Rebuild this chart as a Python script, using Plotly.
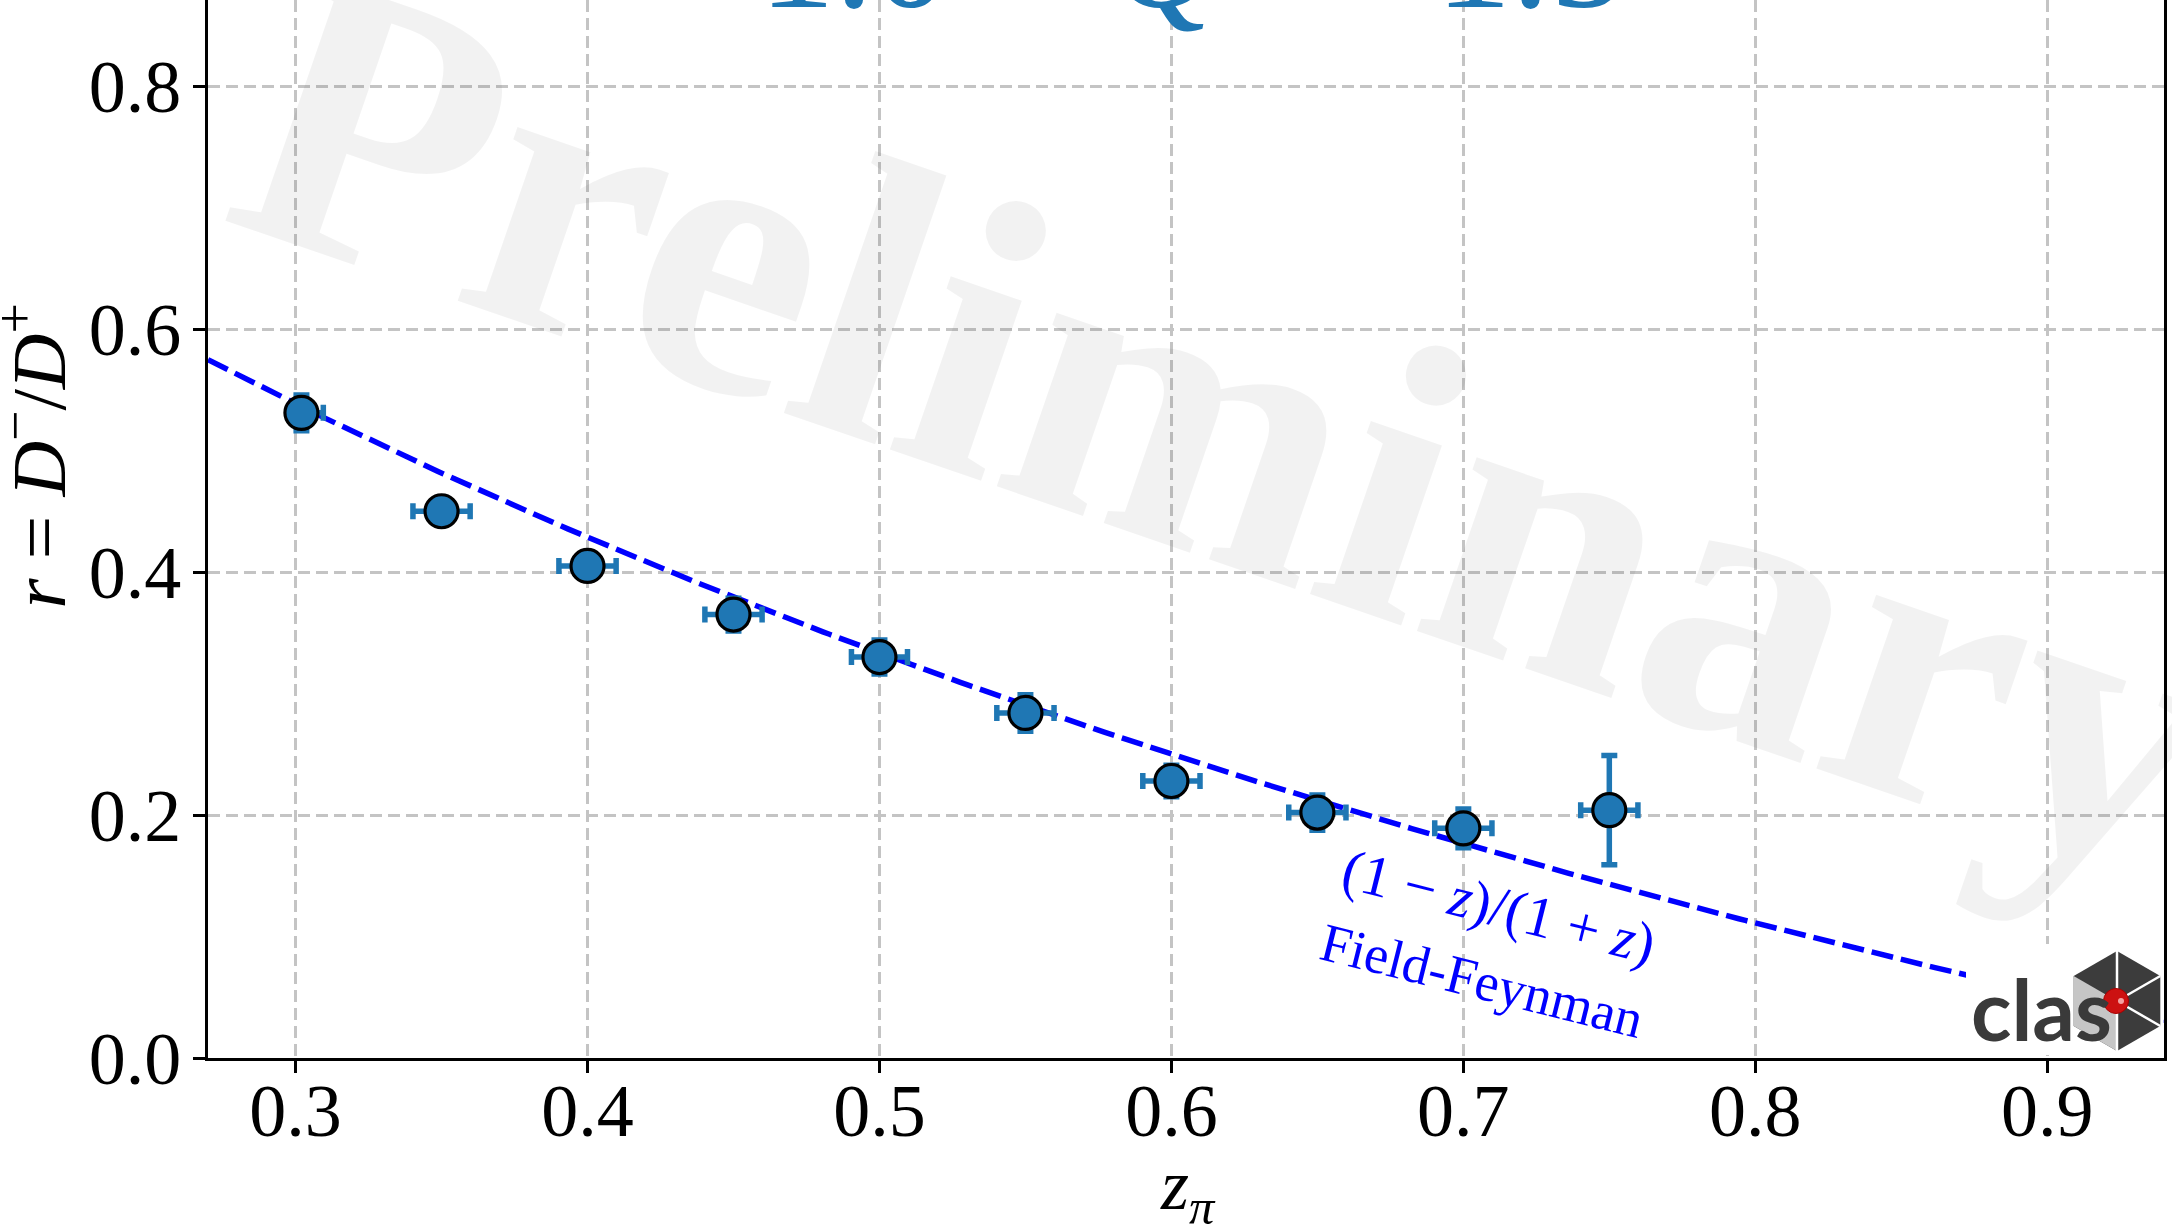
import numpy as np
import plotly.graph_objects as go

# Measured ratio r = D-/D+ versus z_pi
z_pi = [0.302, 0.35, 0.40, 0.45, 0.50, 0.55, 0.60, 0.65, 0.70, 0.75]
ratio = [0.531, 0.450, 0.405, 0.365, 0.330, 0.284, 0.228, 0.202, 0.189, 0.204]
ratio_err = [0.0147, 0.010, 0.010, 0.0135, 0.014, 0.015, 0.013, 0.0145, 0.016, 0.045]
z_err_hi = [0.0075, 0.0098, 0.0098, 0.0098, 0.0096, 0.0098, 0.0098, 0.0098, 0.0098, 0.0098]
z_err_lo = [0.0020, 0.0098, 0.0098, 0.0098, 0.0096, 0.0098, 0.0098, 0.0098, 0.0098, 0.0098]

x_ticks = [0.3, 0.4, 0.5, 0.6, 0.7, 0.8, 0.9]
y_ticks = [0.0, 0.2, 0.4, 0.6, 0.8]
x_range = [0.27, 0.94]
y_range = [0.0, 0.8708]

# Field-Feynman expectation (1-z)/(1+z)
z_model = np.linspace(x_range[0], x_range[1], 300)
r_model = (1 - z_model) / (1 + z_model)

W, H = 2172, 1229
ML, MR, MT, MB = 208, 8, 0, 171
PW, PH = W - ML - MR, H - MT - MB

SERIF = "Liberation Serif"
C_DATA = "#1f77b4"


def px(x):
    return (x - ML) / PW


def py(y):
    return (MT + PH - y) / PH


fig = go.Figure()

fig.add_trace(go.Scatter(
    x=z_model, y=r_model, mode="lines",
    line=dict(color="#0000ff", width=5.5, dash="22px,8px"),
    hoverinfo="skip", showlegend=False,
))

fig.add_trace(go.Scatter(
    x=z_pi, y=ratio, mode="markers",
    marker=dict(size=33, color=C_DATA, line=dict(color="black", width=3.2)),
    error_y=dict(type="data", array=ratio_err, color=C_DATA, thickness=5.5, width=8),
    error_x=dict(type="data", array=z_err_hi, arrayminus=z_err_lo, symmetric=False,
                 color=C_DATA, thickness=5.5, width=8),
    showlegend=False,
))

axis_common = dict(
    showgrid=True, gridcolor="#c4c4c4", gridwidth=2.5, griddash="12px,6px",
    showline=True, linecolor="black", linewidth=2.8,
    ticks="outside", ticklen=12, tickwidth=2.5, tickcolor="black",
    tickfont=dict(family=SERIF, size=74, color="black"),
    zeroline=False,
)

fig.update_xaxes(range=x_range, tickvals=x_ticks, ticktext=[f"{v:.1f}" for v in x_ticks],
                 mirror=False, ticklabelstandoff=-26, **axis_common)
fig.update_yaxes(range=y_range, tickvals=y_ticks, ticktext=[f"{v:.1f}" for v in y_ticks],
                 mirror=True, ticklabelstandoff=-3, **axis_common)

annotations = [
    # watermark
    dict(text="Preliminary", x=0.6212, y=0.520, xref="x", yref="y",
         xanchor="center", yanchor="middle", textangle=19, showarrow=False,
         font=dict(family=SERIF, size=400, weight="bold", color="rgba(0,0,0,0.05)")),
    # bin title
    dict(text="1.0 &lt; <i>Q</i><sup>2</sup> &lt; 1.5", x=0.607, y=0.8364, xref="x", yref="y",
         xanchor="center", yanchor="bottom", showarrow=False,
         font=dict(family=SERIF, size=152, color=C_DATA)),
    # model labels
    dict(text="(1 − <i>z</i>)/(1 + <i>z</i>)", x=0.7123, y=0.125, xref="x", yref="y",
         xanchor="center", yanchor="middle", textangle=14, showarrow=False,
         font=dict(family=SERIF, size=58, color="#0000ff")),
    dict(text="Field-Feynman", x=0.7065, y=0.0634, xref="x", yref="y",
         xanchor="center", yanchor="middle", textangle=14, showarrow=False,
         font=dict(family=SERIF, size=54, color="#0000ff")),
    # axis titles
    dict(text="<i>r</i> = <i>D</i><sup>−</sup>/<i>D</i><sup>+</sup>", x=px(84), y=0.4955,
         xref="paper", yref="y", xanchor="right", yanchor="middle", textangle=-90,
         showarrow=False, font=dict(family=SERIF, size=77, color="black")),
    dict(text="<i>z</i><sub><i>π</i></sub>", x=px(1188), y=py(1143), xref="paper", yref="paper",
         xanchor="center", yanchor="top", showarrow=False,
         font=dict(family=SERIF, size=72, color="black")),
    # logo lettering
    dict(text="clas", x=px(1969), y=py(1061), xref="paper", yref="paper",
         xanchor="left", yanchor="bottom", showarrow=False,
         font=dict(family="Lato", size=84, weight="bold", color="#3a3a3a")),
]

# CLAS logo: white backing, hexagon cube, red ball
shapes = [dict(type="rect", xref="paper", yref="paper", x0=px(1966), x1=px(2161),
               y0=py(1055), y1=py(944), fillcolor="white", line_width=0, layer="above")]

cx, cy, R = 2117.0, 1001.0, 50.0
angles = np.deg2rad([90, 30, -30, -90, -150, 150])
verts = [(cx + R * np.cos(a), cy - R * np.sin(a)) for a in angles]


def path_of(points):
    return "M " + " L ".join(f"{px(x):.5f},{py(y):.5f}" for x, y in points) + " Z"


shapes.append(dict(type="path", xref="paper", yref="paper", path=path_of(verts),
                   fillcolor="#3c3c3c", line_width=0, layer="above"))
face = [verts[5], (cx, cy), verts[3], verts[4]]
shapes.append(dict(type="path", xref="paper", yref="paper", path=path_of(face),
                   fillcolor="#c6c6c6", line_width=0, layer="above"))
for vx, vy in [verts[0], verts[1], verts[2], verts[3]]:
    shapes.append(dict(type="line", xref="paper", yref="paper", x0=px(cx), y0=py(cy),
                       x1=px(vx), y1=py(vy), line=dict(color="white", width=2.5),
                       layer="above"))
br = 12.5
shapes.append(dict(type="circle", xref="paper", yref="paper", x0=px(cx - 1 - br),
                   x1=px(cx - 1 + br), y0=py(cy + br), y1=py(cy - br),
                   fillcolor="#cc1111", line=dict(color="#aa0000", width=1), layer="above"))
shapes.append(dict(type="circle", xref="paper", yref="paper", x0=px(cx + 1), x1=px(cx + 7),
                   y0=py(cy + 3), y1=py(cy - 3), fillcolor="#f4a0a0", line_width=0,
                   layer="above"))

fig.update_layout(
    width=W, height=H,
    margin=dict(l=ML, r=MR, t=MT, b=MB),
    paper_bgcolor="white", plot_bgcolor="white",
    showlegend=False,
    annotations=annotations,
    shapes=shapes,
)

fig.write_html("out.html")
